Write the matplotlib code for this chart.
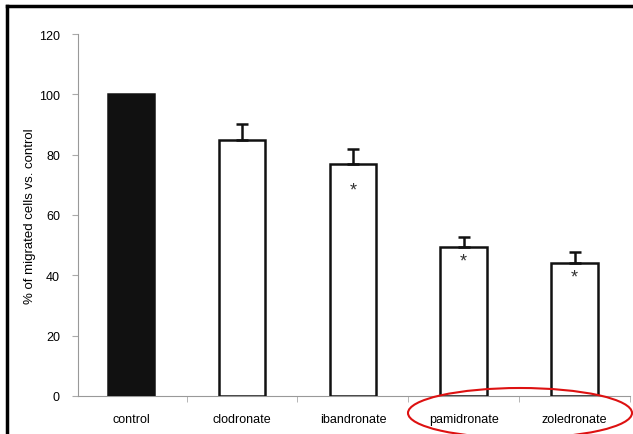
import matplotlib
matplotlib.use("Agg")
import matplotlib.pyplot as plt
from matplotlib.patches import Ellipse
from matplotlib.lines import Line2D

categories = ["control", "clodronate", "ibandronate", "pamidronate", "zoledronate"]
values = [100, 85, 77, 49.5, 44]
errors = [0, 5.3, 5, 3.3, 3.7]
star_y = [None, None, 69.6, 46.0, 40.8]
yticks = [0, 20, 40, 60, 80, 100, 120]

plt.rcParams['font.family'] = ['Liberation Sans', 'DejaVu Sans']

fig = plt.figure(figsize=(6.33, 4.35), dpi=100)
W, H = 633, 435
ax = fig.add_axes([78 / W, 1 - 397 / H, (630 - 78) / W, (397 - 35) / H])

x = list(range(len(categories)))
colors = ["#111111"] + ["white"] * (len(categories) - 1)
ax.bar(x, values, width=0.42, color=colors, edgecolor="#111111", linewidth=1.8, zorder=3)
for xi, v, e in zip(x, values, errors):
    if e > 0:
        ax.errorbar(xi, v, yerr=[[0], [e]], fmt="none", ecolor="#111111",
                    elinewidth=1.8, capsize=4, capthick=1.8, zorder=4)
for xi, sy in zip(x, star_y):
    if sy is not None:
        ax.annotate("*", (xi, sy), xytext=(0, -3), textcoords="offset points",
                    ha="center", va="center", fontsize=13, color="#333333", zorder=5)

ax.set_xlim(-0.48, 4.5)
ax.set_ylim(0, 120)
ax.set_yticks(yticks)
ax.set_yticklabels([str(t) for t in yticks], fontsize=9)
ax.set_xticks(x)
ax.set_xticklabels(categories, fontsize=9)
ax.tick_params(axis="x", length=0, pad=12)
ax.set_xticks([i + 0.5 for i in range(len(categories) - 1)] + [4.5], minor=True)
ax.tick_params(axis="x", which="minor", length=4, color="#aaaaaa", direction="out")
ax.tick_params(axis="y", length=4, color="#aaaaaa", pad=9)
for side in ["top", "right"]:
    ax.spines[side].set_visible(False)
ax.spines["left"].set_color("#999999")
ax.spines["bottom"].set_color("#999999")
ax.spines["left"].set_linewidth(0.8)
ax.spines["bottom"].set_linewidth(0.8)
ax.set_ylabel("% of migrated cells vs. control", fontsize=9.5)
ax.yaxis.set_label_coords(-42 / (630 - 78), 0.5)

# frame lines
fig.add_artist(Line2D([7 / W, 7 / W], [0, 1 - 7 / H], transform=fig.transFigure, color="black", linewidth=2.5))
fig.add_artist(Line2D([7 / W, 1], [1 - 7 / H, 1 - 7 / H], transform=fig.transFigure, color="black", linewidth=2.5))

# red ellipse
ell = Ellipse((520 / W, 1 - 414 / H), 224 / W, 50 / H, transform=fig.transFigure,
              fill=False, edgecolor="#dd1111", linewidth=1.5)
fig.add_artist(ell)

fig.savefig("out.png", dpi=100, facecolor="white")
